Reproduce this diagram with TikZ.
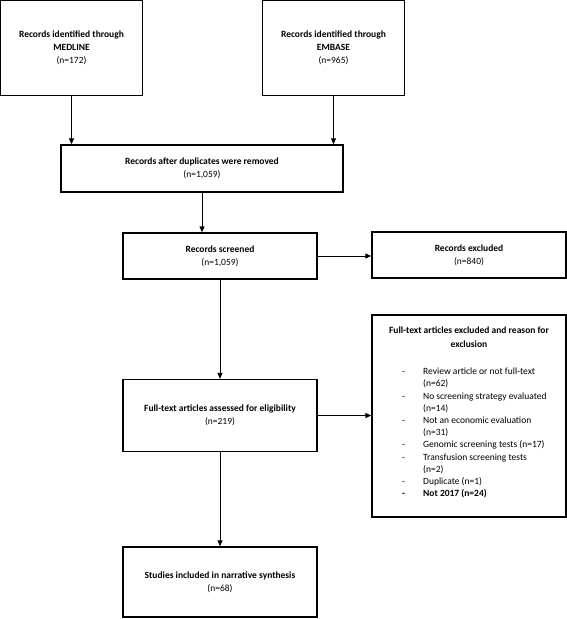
\documentclass[tikz,border=0pt]{standalone}
\usepackage{fontspec}
\setmainfont{Carlito}
\usetikzlibrary{arrows.meta, positioning}
\tikzset{box/.style={draw, line width=1.3pt, inner sep=2pt, align=center,
    font=\fontsize{9.5}{13}\selectfont},
    flow/.style={line width=1pt, -{Triangle[length=6pt,width=5pt]}}}

\begin{document}
\begin{tikzpicture}[x=1pt, y=-1pt]
        \useasboundingbox (0,0) rectangle (567,619);
        % search sources
        \node[box, minimum width=142, minimum height=95] (med) at (71.5,48)
            {\textbf{Records identified through}\\\textbf{MEDLINE}\\(n=172)};
        \node[box, minimum width=142, minimum height=95] (emb) at (333.5,48)
            {\textbf{Records identified through}\\\textbf{EMBASE}\\(n=965)};
        % main column
        \node[box, minimum width=282, minimum height=47] (dup) at (202,168.5)
            {\textbf{Records after duplicates were removed}\\(n=1,059)};
        \node[box, minimum width=194, minimum height=46] (scr) at (220,256)
            {\textbf{Records screened}\\(n=1,059)};
        \node[box, minimum width=194, minimum height=72] (ft) at (220,415.5)
            {\textbf{Full-text articles assessed for eligibility}\\(n=219)};
        \node[box, minimum width=194, minimum height=70] (stu) at (220,582)
            {\textbf{Studies included in narrative synthesis}\\(n=68)};
        % exclusions
        \node[box, minimum width=194, minimum height=46] (exc) at (469,255)
            {\textbf{Records excluded}\\(n=840)};
        \node[box, minimum width=194, minimum height=202] (rsn) at (469,416) {};
        \node[align=center, font=\fontsize{9.5}{14}\selectfont\bfseries, below=9pt of rsn.north] (rsnhead)
            {Full-text articles excluded and reason for\\exclusion};
        \node[anchor=north west, inner sep=0pt, font=\fontsize{9.5}{12.2}\selectfont] (rsnlist) at (402,366)
            {\begin{tabular}{@{}p{21pt}@{}l@{}}
            - & Review article or not full-text\\
              & (n=62)\\
            - & No screening strategy evaluated\\
              & (n=14)\\
            - & Not an economic evaluation\\
              & (n=31)\\
            - & Genomic screening tests (n=17)\\
            - & Transfusion screening tests\\
              & (n=2)\\
            - & Duplicate (n=1)\\
            \textbf{-} & \textbf{Not 2017 (n=24)}
            \end{tabular}};

        \draw[flow] (med.south) -- (med.south |- dup.north);
        \draw[flow] (emb.south) -- (emb.south |- dup.north);
        \draw[flow] (dup.south) -- (dup.south |- scr.north);
        \draw[flow] (scr.east) -- (scr.east -| exc.west);
        \draw[flow] (scr.south) -- (ft.north);
        \draw[flow] (ft.east) -- (ft.east -| rsn.west);
        \draw[flow] (ft.south) -- (stu.north);
    \end{tikzpicture}
\end{document}
